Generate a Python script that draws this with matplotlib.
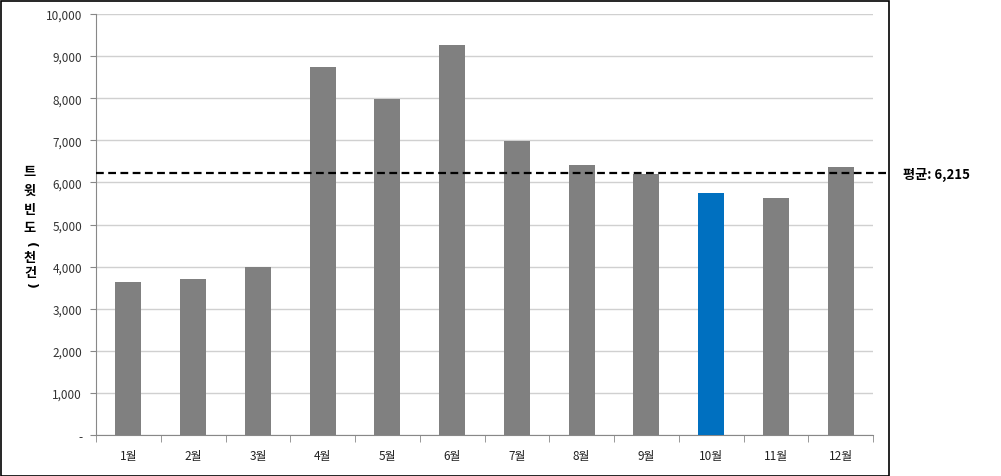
import matplotlib
matplotlib.use("Agg")
import matplotlib.pyplot as plt
from matplotlib.patches import Rectangle

plt.rcParams["font.family"] = ["Noto Sans CJK KR", "DejaVu Sans"]

# 데이터
months = ["1월", "2월", "3월", "4월", "5월", "6월", "7월", "8월", "9월", "10월", "11월", "12월"]
tweets = [3630, 3705, 3990, 8741, 7980, 9264, 6983, 6413, 6200, 5748, 5630, 6366]
highlight = "10월"
avg_value = 6215
yticks = [0, 1000, 2000, 3000, 4000, 5000, 6000, 7000, 8000, 9000, 10000]
ytick_labels = ["-"] + [f"{v:,}" for v in yticks[1:]]
ylabel_chars = ["트", "윗", "빈", "도", "(", "천", "건", ")"]

W, H = 1001, 477
fig = plt.figure(figsize=(W / 100, H / 100), dpi=100)
fig.patch.set_facecolor("white")
ax = fig.add_axes([96 / W, 1 - 436 / H, (873 - 96) / W, (436 - 15) / H])

colors = ["#0070C0" if m == highlight else "#808080" for m in months]
x = list(range(len(months)))
ax.bar(x, tweets, width=0.4, color=colors, zorder=3)

ax.set_xlim(-0.5, len(months) - 0.5)
ax.set_ylim(0, 10000)
ax.set_yticks(yticks)
ax.set_yticklabels(ytick_labels, fontsize=8.5, color="#333333")
ax.set_xticks(x)
ax.set_xticklabels(months, fontsize=8.5, color="#222222")
ax.tick_params(axis="x", length=0, pad=10)
ax.tick_params(axis="y", length=4, color="#888888", direction="out", pad=6)
# 카테고리 경계 눈금
ax.set_xticks([i - 0.5 for i in range(len(months) + 1)], minor=True)
ax.tick_params(axis="x", which="minor", length=5, color="#888888", direction="out")

ax.grid(axis="y", color="#d0d0d0", linewidth=1, zorder=0)
for s in ["top", "right"]:
    ax.spines[s].set_visible(False)
ax.spines["left"].set_color("#888888")
ax.spines["bottom"].set_color("#888888")

# 평균선 (축 밖까지 연장)
ax.plot([-0.5, len(months) - 0.5 + 15 / ((873 - 96) / 12)], [avg_value, avg_value],
        color="black", linestyle=(0, (3.5, 2)), linewidth=1.6, zorder=4, clip_on=False)
fig.text(903 / W, 1 - 175 / H, f"평균: {avg_value:,}", fontsize=9.5, fontweight="bold",
         va="center", ha="left")

# 세로 y축 라벨
ys = [172, 191, 210, 228, 245, 258, 273, 286]
for ch, yy in zip(ylabel_chars, ys):
    if ch in "()":
        fig.text(30 / W, 1 - yy / H, ch, fontsize=9, fontweight="bold", ha="center", va="center",
                 rotation=-90, family="DejaVu Sans")
    else:
        fig.text(30 / W, 1 - yy / H, ch, fontsize=9.5, fontweight="bold", ha="center", va="center")

# 차트 테두리
fig.patches.append(Rectangle((0.5 / W, 0.5 / H), 888 / W, (H - 2) / H, transform=fig.transFigure,
                             fill=False, edgecolor="black", linewidth=1.2))

fig.savefig("out.png", dpi=100)
